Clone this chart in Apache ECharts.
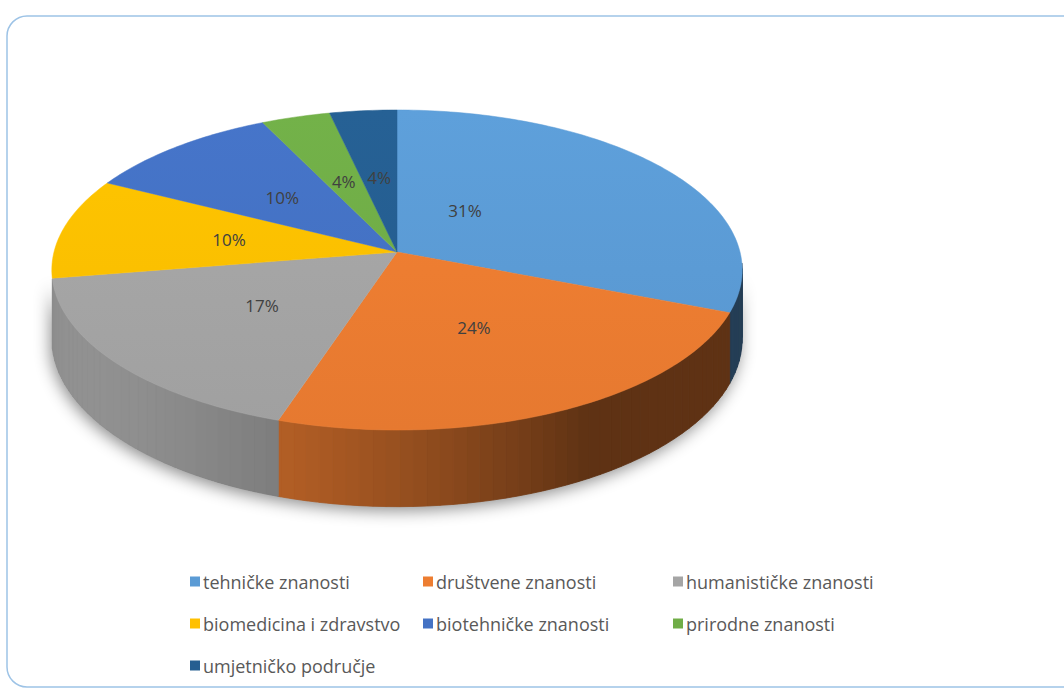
<!DOCTYPE html>
<html>
<head>
<meta charset="utf-8">
<script src="https://cdn.jsdelivr.net/npm/echarts@6/dist/echarts.min.js"></script>
<style>
html,body{margin:0;padding:0;background:#fff;}
#chart{width:1064px;height:690px;}
</style>
</head>
<body>
<div id="chart"></div>
<script>
// ---- data ----
const categories = ['tehničke znanosti', 'društvene znanosti', 'humanističke znanosti',
  'biomedicina i zdravstvo', 'biotehničke znanosti', 'prirodne znanosti', 'umjetničko područje'];
const values = [31, 24, 17.4, 10.2, 10.3, 3.6, 3.5];
const colors = ['#5b9bd5', '#ed7d31', '#a5a5a5', '#ffc000', '#4472c4', '#70ad47', '#255e91'];
const legendColumns = [
  ['tehničke znanosti', 'biomedicina i zdravstvo', 'umjetničko područje'],
  ['društvene znanosti', 'biotehničke znanosti'],
  ['humanističke znanosti', 'prirodne znanosti']
];

// ---- 3D pie projection settings ----
const CX = 397, CY = 252, R = 343, RS = 158, P = 0.1125, H = 68;
const WALL_FROM = 94, WALL_TO = 260.3;
const labelTweak = { 0: { angle: 37, r: 0.34 } };

function proj(deg, r, drop) {
  const t = deg * Math.PI / 180;
  const u = r * Math.sin(t), v = r * Math.cos(t);
  const d = 1 + P * v;
  return [CX + R * u / d, CY + (-RS * v + drop * H) / d];
}
function hexToRgb(h) {
  h = h.replace('#', '');
  return [parseInt(h.substr(0, 2), 16), parseInt(h.substr(2, 2), 16), parseInt(h.substr(4, 2), 16)];
}
function shade(hex, f) {
  const c = hexToRgb(hex).map(x => Math.max(0, Math.min(255, Math.round(x * f))));
  return 'rgb(' + c.join(',') + ')';
}
function wallFactor(deg) {
  const c = Math.cos((deg - 240) * Math.PI / 180);
  return 0.4 + 0.48 * Math.max(0, c);
}

const total = values.reduce((a, b) => a + b, 0);
let acc = 0;
const slices = values.map((v, i) => {
  const s = acc / total * 360;
  acc += v;
  const e = acc / total * 360;
  return [s, e, Math.round(v / total * 100)];
});

function makeRender(idx) {
  return function (params, api) {
    const s = api.value(0), e = api.value(1), pct = api.value(2);
    const base = colors[idx];
    const children = [];
    if (idx === 0) {
      const pts = [];
      for (let a = WALL_FROM; a <= WALL_TO; a += 2) pts.push(proj(a, 1, 1));
      for (let a = WALL_TO; a >= WALL_FROM; a -= 2) pts.push(proj(a, 1, 0));
      children.push({
        type: 'polygon', z2: 0, silent: true,
        shape: { points: pts },
        style: { fill: '#777', shadowBlur: 16, shadowColor: 'rgba(0,0,0,0.45)', shadowOffsetX: -2, shadowOffsetY: 4 }
      });
    }
    // outer (front) wall strips
    const ws = Math.max(s, WALL_FROM), we = Math.min(e, WALL_TO);
    const step = 2;
    for (let a = ws; a < we - 1e-6; a += step) {
      const b = Math.min(we, a + step);
      const col = shade(base, wallFactor((a + b) / 2));
      children.push({
        type: 'polygon', z2: 1, silent: true,
        shape: { points: [proj(a, 1, 0), proj(b, 1, 0), proj(b, 1, 1), proj(a, 1, 1)] },
        style: { fill: col, stroke: col, lineWidth: 0.8 }
      });
    }
    // top face
    const top = [[CX, CY]];
    for (let a = s; a < e; a += 1) top.push(proj(a, 1, 0));
    top.push(proj(e, 1, 0));
    children.push({
      type: 'polygon', z2: 2,
      shape: { points: top },
      style: {
        fill: {
          type: 'linear', global: true, x: 0, y: 110, x2: 0, y2: 430,
          colorStops: [{ offset: 0, color: shade(base, 1.03) }, { offset: 1, color: shade(base, 0.97) }]
        },
        stroke: shade(base, 1.0), lineWidth: 0.5
      }
    });
    // label
    const tw = labelTweak[idx];
    const lp = tw ? proj(tw.angle, tw.r, 0) : proj((s + e) / 2, 0.5, 0);
    children.push({
      type: 'text', z2: 3, silent: true,
      style: {
        text: pct + '%', x: lp[0], y: lp[1],
        textAlign: 'center', textVerticalAlign: 'middle', align: 'center', verticalAlign: 'middle',
        fill: '#404040', font: '17px "Open Sans", sans-serif'
      }
    });
    return { type: 'group', children: children };
  };
}

const series = categories.map((name, i) => ({
  type: 'custom',
  name: name,
  coordinateSystem: 'none',
  itemStyle: { color: colors[i] },
  data: [slices[i]],
  renderItem: makeRender(i)
}));

const legendLeft = [185, 418, 668];
const legends = legendColumns.map((col, i) => ({
  orient: 'vertical',
  left: legendLeft[i],
  top: 566,
  data: col,
  icon: 'rect',
  itemWidth: 10,
  itemHeight: 10,
  itemGap: 21,
  selectedMode: false,
  textStyle: { color: '#595959', fontSize: 18, lineHeight: 21, fontFamily: '"Open Sans", sans-serif', padding: [0, 0, 0, -2] }
}));

const chart = echarts.init(document.getElementById('chart'), null, { renderer: 'svg' });
chart.setOption({
  backgroundColor: '#ffffff',
  animation: false,
  graphic: [{
    type: 'rect', silent: true, z: -10,
    shape: { x: 7, y: 16, width: 1100, height: 671, r: 20 },
    style: { fill: '#ffffff', stroke: '#9dc3e6', lineWidth: 1.5 }
  }],
  legend: legends,
  series: series
});
</script>
</body>
</html>
